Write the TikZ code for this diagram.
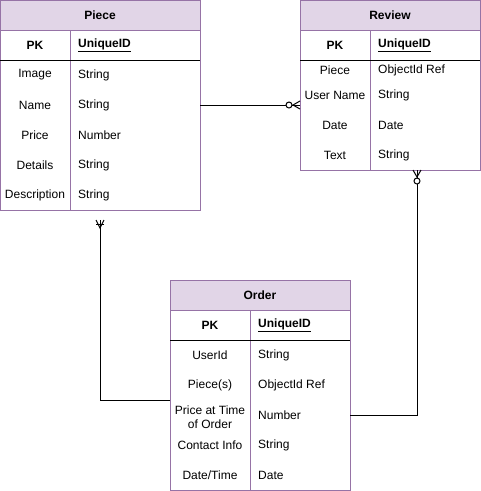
\documentclass[tikz,border=0pt]{standalone}
\usepackage{fontspec}
\setmainfont{Liberation Sans}
\usetikzlibrary{calc}

\definecolor{headfill}{HTML}{E1D5E7}
\definecolor{headline}{HTML}{9673A6}

\tikzset{
  entity/.style={draw=headline, fill=white, line width=1pt, inner sep=0pt, outer sep=0pt, anchor=north west},
  title/.style={draw=headline, fill=headfill, line width=1pt, font=\bfseries, inner sep=0pt, outer sep=0pt, minimum height=30pt, anchor=north west},
  keytext/.style={inner sep=0pt, align=center},
  valtext/.style={inner sep=0pt, anchor=west},
  divider/.style={draw=headline, line width=1pt},
  keyline/.style={line width=1pt},
  link/.style={line width=1pt},
  pics/zeromany/.style={code={
    \draw[link] (0,-4) -- (7,0) -- (0,4);
    \draw[link, fill=white] (11,0) circle (3pt);}},
  pics/onemany/.style={code={
    \draw[link] (10,-4) -- (18,0) -- (10,4);
    \draw[link] (14,-4) -- (14,4);}}
}

\begin{document}
\fontsize{12}{14}\selectfont
\begin{tikzpicture}[x=1pt, y=-1pt]
  \useasboundingbox (0,0) rectangle (481,491);

  % Piece
  \node[entity, minimum width=200pt, minimum height=210pt] (piece) at (0,0) {};
  \node[title, minimum width=200pt] (pieceTitle) at (0,0) {Piece};
  \draw[divider] (70,30) -- (70,210);
  \draw[keyline] (0,60) -- (200,60);
  \node[keytext, font=\bfseries] (pieceKey) at (35,45) {PK};
  \node[valtext, font=\bfseries] (pieceId) at (78,45) {\underline{UniqueID}};
  \foreach \name/\kind [count=\i] in {Image/String, Name/String, Price/Number, Details/String, Description/String}
    {\node[keytext] (pieceK\i) at (35,45+30*\i) {\name};
     \node[valtext] (pieceV\i) at (78,45+30*\i) {\kind};}

  % Review
  \node[entity, minimum width=180pt, minimum height=170pt] (review) at (300,0) {};
  \node[title, minimum width=180pt] (reviewTitle) at (300,0) {Review};
  \draw[divider] (370,30) -- (370,170);
  \draw[keyline] (300,60) -- (480,60);
  \node[keytext, font=\bfseries] (reviewKey) at (335,45) {PK};
  \node[valtext, font=\bfseries] (reviewId) at (378,45) {\underline{UniqueID}};
  \foreach \name/\kind/\ypos [count=\i] in {Piece/ObjectId Ref/70, User Name/String/95, Date/Date/125, Text/String/155}
    {\node[keytext] (reviewK\i) at (335,\ypos) {\name};
     \node[valtext] (reviewV\i) at (378,\ypos) {\kind};}

  % Order
  \node[entity, minimum width=180pt, minimum height=210pt] (order) at (170,280) {};
  \node[title, minimum width=180pt] (orderTitle) at (170,280) {Order};
  \draw[divider] (250,310) -- (250,490);
  \draw[keyline] (170,340) -- (350,340);
  \node[keytext, font=\bfseries] (orderKey) at (210,325) {PK};
  \node[valtext, font=\bfseries] (orderId) at (258,325) {\underline{UniqueID}};
  \foreach \name/\kind/\ypos [count=\i] in {UserId/String/355, Piece(s)/ObjectId Ref/385, {Price at Time\\of Order}/Number/417, Contact Info/String/445, {Date\slash Time}/Date/475}
    {\node[keytext] (orderK\i) at (210,\ypos) {\name};
     \node[valtext] (orderV\i) at (258,325+30*\i) {\kind};}

  % connectors
  \coordinate (reviewIn) at (review.west |- piece.east);
  \coordinate (reviewOut) at ($(review.south west)+(117,0)$);
  \coordinate (orderOut) at ($(order.north east)+(0,135)$);
  \coordinate (orderIn) at ($(order.north west)+(0,120)$);
  \coordinate (pieceIn) at ($(piece.south)+(0,10)$);
  \draw[link] (piece.east) -- (reviewIn);
  \draw[link] (reviewOut) |- (orderOut);
  \draw[link] (orderIn) -| (pieceIn);
  \pic[rotate=180] at (reviewIn) {zeromany};
  \pic[rotate=-90] at (reviewOut) {zeromany};
  \pic[rotate=-90] at (piece.south) {onemany};
\end{tikzpicture}
\end{document}
